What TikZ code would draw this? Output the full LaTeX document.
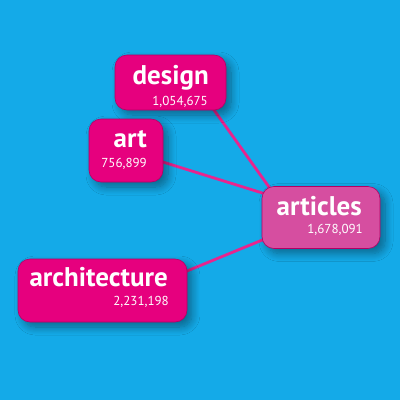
\documentclass[tikz,border=0pt]{standalone}
\usepackage{fontspec}
\setmainfont{PT Sans}
\usetikzlibrary{shadows.blur}
\definecolor{bgc}{RGB}{20,170,232}
\definecolor{pinkc}{RGB}{230,0,126}
\definecolor{linkc}{RGB}{232,36,142}
\definecolor{artc}{RGB}{214,78,160}
\definecolor{edgec}{RGB}{180,0,100}
\tikzset{
  box/.style={draw=edgec, line width=0.6pt, fill=pinkc, rounded corners=12pt, inner sep=0pt,
    blur shadow={shadow xshift=5pt, shadow yshift=-5pt, shadow blur steps=10, shadow blur radius=8pt, shadow opacity=40}},
  title/.style={text=white, font=\fontsize{27}{29}\selectfont\bfseries, inner sep=0pt, anchor=base east},
  num/.style={text=white, font=\fontsize{13}{14}\selectfont, inner sep=0pt, anchor=base east},
  link/.style={draw=linkc, line width=2.8pt}
}
\begin{document}
\begin{tikzpicture}[x=1pt,y=-1pt]
\fill[bgc] (0,0) rectangle (400,400);
\useasboundingbox (0,0) rectangle (400,400);
% connector ends
\coordinate (dEnd) at (204,96);
\coordinate (dA) at (274,194);
\coordinate (aEnd) at (150,158);
\coordinate (aA) at (272,196);
\coordinate (rEnd) at (170,278);
\coordinate (rA) at (272,236);
\draw[link] (dEnd) -- (dA);
\draw[link] (aEnd) -- (aA);
\draw[link] (rEnd) -- (rA);
% boxes
\node[box, minimum width=111pt, minimum height=55pt] (design) at (170.5,82.5) {};
\node[box, minimum width=74pt, minimum height=63pt] (art) at (126,150.5) {};
\node[box, fill=artc, minimum width=118pt, minimum height=62pt] (articles) at (321,217.5) {};
\node[box, minimum width=169pt, minimum height=63pt] (architecture) at (102.5,290.5) {};
% texts
\node[title] (tdesign) at (209,84) {design};
\node[num] (ndesign) at (208,105) {1,054,675};
\node[title] (tart) at (147,147) {art};
\node[num] (nart) at (147,167) {756,899};
\node[title] (tarticles) at (362,215) {articles};
\node[num] (narticles) at (363,233) {1,678,091};
\node[title] (tarchitecture) at (168,286) {architecture};
\node[num] (narchitecture) at (169,305) {2,231,198};
\end{tikzpicture}
\end{document}
